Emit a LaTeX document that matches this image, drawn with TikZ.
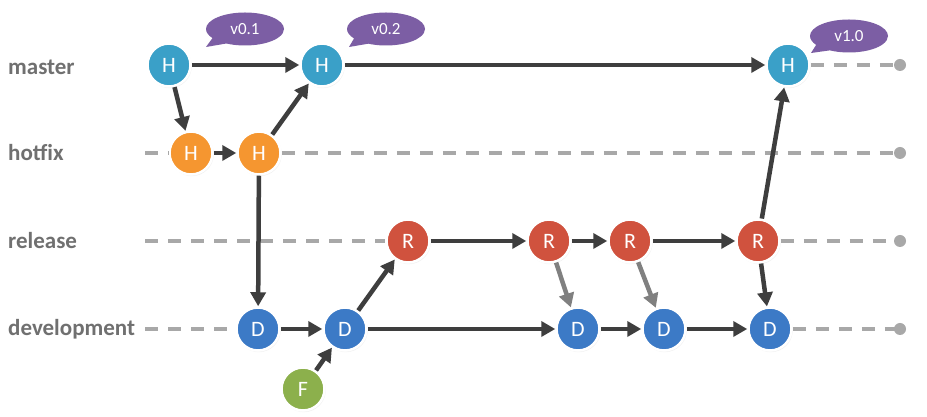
\documentclass[tikz,border=0pt]{standalone}
\usepackage{fontspec}
\setmainfont{Carlito}
\usetikzlibrary{arrows.meta,shapes.callouts,shadows}
\definecolor{cmaster}{RGB}{58,160,200}
\definecolor{chotfix}{RGB}{245,150,48}
\definecolor{crelease}{RGB}{208,82,62}
\definecolor{cdev}{RGB}{60,122,198}
\definecolor{cfeat}{RGB}{140,176,76}
\definecolor{ctag}{RGB}{124,94,164}
\definecolor{carrow}{RGB}{62,62,62}
\definecolor{cgrayarrow}{RGB}{128,128,128}
\definecolor{cdash}{RGB}{168,168,168}
\definecolor{clabel}{RGB}{112,112,112}
\begin{document}
\begin{tikzpicture}[x=1pt,y=1pt,
  commit/.style={circle,minimum size=43pt,inner sep=0pt,draw=white,line width=2.5pt,
    text=white,font=\fontsize{22}{22}\selectfont,
    circular drop shadow={shadow xshift=0.6pt,shadow yshift=-1pt,opacity=0.25,shadow scale=1.04}},
  mnode/.style={commit,fill=cmaster},
  hnode/.style={commit,fill=chotfix},
  rnode/.style={commit,fill=crelease},
  dnode/.style={commit,fill=cdev},
  fnode/.style={commit,fill=cfeat},
  branch/.style={anchor=west,text=clabel,font=\fontsize{23}{23}\selectfont\bfseries,inner sep=0pt},
  lane/.style={draw=cdash,line width=4pt,dash pattern=on 13pt off 10pt},
  laneend/.style={circle,fill=cdash,minimum size=12pt,inner sep=0pt},
  flow/.style={draw=carrow,line width=4.5pt,-{Triangle[length=14pt,width=15pt]}},
  merge/.style={draw=cgrayarrow,line width=4.5pt,-{Triangle[length=14pt,width=15pt]}},
  tag/.style={ellipse callout,fill=ctag,text=white,minimum width=78pt,minimum height=33pt,
    inner sep=0pt,font=\fontsize{17}{17}\selectfont,callout pointer arc=28}
]
\useasboundingbox (0,0) rectangle (927,417);
\fill[white] (0,0) rectangle (927,417);

% branch labels
\node[branch] (lmaster) at (8,350) {master};
\node[branch] (lhotfix) at (8,264) {hotfix};
\node[branch] (lrelease) at (8,176) {release};
\node[branch] (ldev) at (8,88) {development};

% lane end points
\coordinate (hs) at (145,264);
\coordinate (rs) at (145,176);
\coordinate (ds) at (145,88);
\node[laneend] (me) at (900,352) {};
\node[laneend] (he) at (900,264) {};
\node[laneend] (re) at (900,176) {};
\node[laneend] (de) at (900,88) {};

% commits
\node[mnode] (m1) at (169,352) {H};
\node[mnode] (m2) at (322,352) {H};
\node[mnode] (m3) at (788,352) {H};
\node[hnode] (h1) at (191,264) {H};
\node[hnode] (h2) at (259,264) {H};
\node[rnode] (r1) at (408,176) {R};
\node[rnode] (r2) at (549,176) {R};
\node[rnode] (r3) at (630,176) {R};
\node[rnode] (r4) at (758,176) {R};
\node[dnode] (d1) at (258,88) {D};
\node[dnode] (d2) at (345,88) {D};
\node[dnode] (d3) at (578,88) {D};
\node[dnode] (d4) at (664,88) {D};
\node[dnode] (d5) at (770,88) {D};
\node[fnode] (f) at (303,28) {F};

% lanes
\path[lane] (m3.east) -- (me.center);
\path[lane] (hs) -- (h1.west);
\path[lane] (h2.east) -- (he.center);
\path[lane] (rs) -- (r1.west);
\path[lane] (r4.east) -- (re.center);
\path[lane] (ds) -- (d1.west);
\path[lane] (d5.east) -- (de.center);

% tags
\node[tag,callout absolute pointer={(206,370)}] (t1) at (245,388) {v0.1};
\node[tag,callout absolute pointer={(349,370)}] (t2) at (386,388) {v0.2};
\node[tag,callout absolute pointer={(811,364)}] (t3) at (849,381) {v1.0};

% connectors
\path[flow] (m1) -- (m2);
\path[flow] (m2) -- (m3);
\path[flow] (m1) -- (h1);
\path[flow] (h1) -- (h2);
\path[flow] (h2) -- (m2);
\path[flow] (h2) -- (d1);
\path[flow] (d1) -- (d2);
\path[flow] (f) -- (d2);
\path[flow] (d2) -- (r1);
\path[flow] (d2) -- (d3);
\path[flow] (r1) -- (r2);
\path[flow] (r2) -- (r3);
\path[flow] (r3) -- (r4);
\path[flow] (r4) -- (m3);
\path[merge] (r2) -- (d3);
\path[merge] (r3) -- (d4);
\path[flow] (r4) -- (d5);
\path[flow] (d3) -- (d4);
\path[flow] (d4) -- (d5);
\end{tikzpicture}
\end{document}
